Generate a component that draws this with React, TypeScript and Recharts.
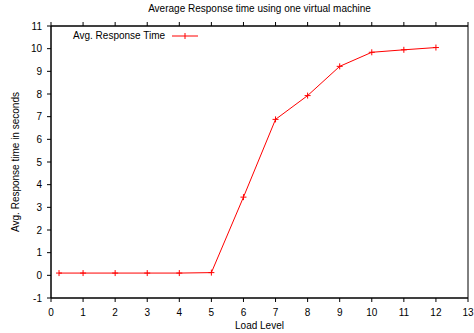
import React from 'react';
import { LineChart, Line, XAxis, YAxis, ReferenceArea } from 'recharts';

const loadLevels = [0.25, 1, 2, 3, 4, 5, 6, 7, 8, 9, 10, 11, 12];
const responseTimes = [0.1, 0.1, 0.1, 0.1, 0.1, 0.12, 3.45, 6.88, 7.93, 9.22, 9.84, 9.95, 10.05];
const xTicks = [0, 1, 2, 3, 4, 5, 6, 7, 8, 9, 10, 11, 12, 13];
const yTicks = [-1, 0, 1, 2, 3, 4, 5, 6, 7, 8, 9, 10, 11];
const seriesName = 'Avg. Response Time';
const title = 'Average Response time using one virtual machine';
const xLabel = 'Load Level';
const yLabel = 'Avg. Response time in seconds';

const data = loadLevels.map((x, i) => ({ x, y: responseTimes[i] }));

const FONT = '"Liberation Sans", Arial, sans-serif';
const RED = '#ff0000';

const PlusDot = (props: any) => {
  const { cx, cy } = props;
  if (cx == null || cy == null) return null;
  return (
    <g>
      <line x1={cx - 3} x2={cx + 3} y1={cy} y2={cy} stroke={RED} strokeWidth={1} />
      <line x1={cx} x2={cx} y1={cy - 3} y2={cy + 3} stroke={RED} strokeWidth={1} />
    </g>
  );
};

const XTick = (props: any) => {
  const { x, y, payload } = props;
  return (
    <text x={x} y={y + 12} textAnchor="middle" fontFamily={FONT} fontSize={10} fill="#000">
      {payload.value}
    </text>
  );
};

const YTick = (props: any) => {
  const { x, y, payload } = props;
  return (
    <text x={x - 3} y={y + 3.5} textAnchor="end" fontFamily={FONT} fontSize={10} fill="#000">
      {payload.value}
    </text>
  );
};

export default function App() {
  return (
    <div style={{ position: 'absolute', left: 0, top: 0, width: 474, height: 333, background: '#fff' }}>
      <div style={{ position: 'absolute', left: 51, width: 417, top: 3, textAlign: 'center', fontFamily: FONT, fontSize: 10, color: '#000' }}>
        {title}
      </div>
      <div style={{ position: 'absolute', left: 51, width: 417, top: 320, textAlign: 'center', fontFamily: FONT, fontSize: 10, color: '#000' }}>
        {xLabel}
      </div>
      <div
        style={{
          position: 'absolute',
          left: 15,
          top: 162,
          transform: 'translate(-50%, -50%) rotate(-90deg)',
          whiteSpace: 'nowrap',
          fontFamily: FONT,
          fontSize: 10,
          color: '#000',
        }}
      >
        {yLabel}
      </div>
      <LineChart width={474} height={333} data={data} margin={{ top: 22, right: 6, bottom: 0, left: 0 }}>
        <XAxis
          xAxisId="bottom"
          dataKey="x"
          type="number"
          domain={[0, 13]}
          ticks={xTicks}
          interval={0}
          height={35}
          tickSize={4}
          tick={<XTick />}
          stroke="#000"
          allowDataOverflow
        />
        <XAxis
          xAxisId="top"
          orientation="top"
          dataKey="x"
          type="number"
          domain={[0, 13]}
          ticks={xTicks}
          interval={0}
          height={4}
          tickSize={4}
          tickFormatter={() => ''}
          stroke="#000"
        />
        <YAxis
          yAxisId="left"
          type="number"
          domain={[-1, 11]}
          ticks={yTicks}
          interval={0}
          width={51}
          tickSize={4}
          tick={<YTick />}
          stroke="#000"
        />
        <ReferenceArea
          xAxisId="bottom"
          yAxisId="left"
          x1={0}
          x2={13}
          y1={-1}
          y2={11}
          fill="none"
          fillOpacity={0}
          stroke="#000"
          strokeWidth={1}
          strokeOpacity={1}
          ifOverflow="visible"
        />
        <Line
          xAxisId="bottom"
          yAxisId="left"
          type="linear"
          dataKey="y"
          name={seriesName}
          stroke={RED}
          strokeWidth={1}
          dot={<PlusDot />}
          activeDot={false}
          isAnimationActive={false}
        />
      </LineChart>
      <div
        style={{
          position: 'absolute',
          top: 30,
          left: 73,
          display: 'flex',
          alignItems: 'center',
          fontFamily: FONT,
          fontSize: 10,
          color: '#000',
        }}
      >
        <span>{seriesName}</span>
        <svg width={27} height={10} style={{ marginLeft: 7 }}>
          <line x1={0} x2={26} y1={5} y2={5} stroke={RED} strokeWidth={1} />
          <line x1={13} x2={13} y1={2} y2={8} stroke={RED} strokeWidth={1} />
        </svg>
      </div>
    </div>
  );
}
